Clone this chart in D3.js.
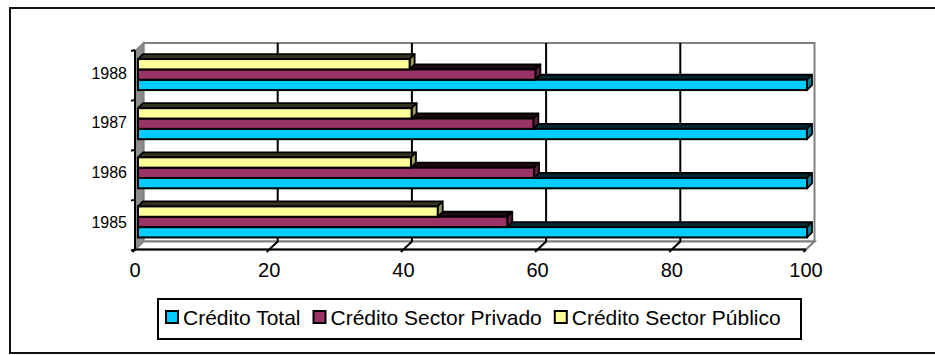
<!DOCTYPE html>
<html>
<head>
<meta charset="utf-8">
<script src="https://cdn.jsdelivr.net/npm/d3@7"></script>
<style>
  html, body { margin: 0; padding: 0; background: #fff; }
  svg { display: block; font-family: Arial, "Liberation Sans", sans-serif; }
</style>
</head>
<body>
<svg id="chart" width="935" height="355"></svg>
<script>
// Credit indices by year (Total = 100)
const years = ["1985", "1986", "1987", "1988"];
const seriesNames = ["Crédito Total", "Crédito Sector Privado", "Crédito Sector Público"];
const creditoTotal = [100, 100, 100, 100];
const creditoPrivado = [55.2, 59.2, 59.1, 59.4];
const creditoPublico = [44.8, 40.8, 40.9, 40.6];
const xTicks = [0, 20, 40, 60, 80, 100];
const seriesColors = ["#00CCFF", "#993366", "#FFFF99"];

const seriesValues = [creditoTotal, creditoPrivado, creditoPublico];

const svg = d3.select("#chart");

// 3D box geometry: front plane and receding depth offset
const depthX = 8.5, depthY = 8;
const floorY = 249.5, topY = 51;
const x = d3.scaleLinear().domain([0, 100]).range([135, 806]);
const xBar = d3.scaleLinear().domain([0, 100]).range([138, 807]);
const yCat = d3.scaleBand().domain(years).range([floorY, 50]);
const yBar = d3.scaleBand().domain(years).range([246.5, 50]);
const barDepth = 5;
const groupH = 31;

// outer frame
svg.append("rect")
  .attr("x", 10).attr("y", 8).attr("width", 940).attr("height", 345)
  .attr("fill", "#fff").attr("stroke", "#111").attr("stroke-width", 2);

const backL = x(0) + depthX, backR = x(100) + depthX;
const backTop = topY - depthY, backBottom = floorY - depthY;

// back wall
svg.append("rect")
  .attr("x", backL).attr("y", backTop)
  .attr("width", backR - backL).attr("height", backBottom - backTop)
  .attr("fill", "#fff").attr("stroke", "#808080").attr("stroke-width", 2);

// left side wall
svg.append("path")
  .attr("d", `M${x(0)},${topY} L${backL},${backTop} L${backL},${backBottom} L${x(0)},${floorY} Z`)
  .attr("fill", "#8c8c8c").attr("stroke", "#808080").attr("stroke-width", 1.5);

// floor
svg.append("path")
  .attr("d", `M${x(0)},${floorY} L${backL},${backBottom} L${backR},${backBottom} L${x(100)},${floorY} Z`)
  .attr("fill", "#fff").attr("stroke", "#808080").attr("stroke-width", 2);

// vertical gridlines on back wall continuing across the floor
svg.append("g").selectAll("path")
  .data(xTicks.filter(v => v > 0 && v < 100))
  .join("path")
  .attr("d", v => `M${x(v) + depthX},${backTop} L${x(v) + depthX},${backBottom} L${x(v)},${floorY}`)
  .attr("fill", "none").attr("stroke", "#000").attr("stroke-width", 2);

// front category axis
svg.append("line")
  .attr("x1", x(0)).attr("x2", x(0)).attr("y1", topY - 1).attr("y2", floorY + 1)
  .attr("stroke", "#000").attr("stroke-width", 2);
const catBounds = years.map(y => yCat(y)).concat([floorY]);
svg.append("g").selectAll("line")
  .data(catBounds)
  .join("line")
  .attr("x1", x(0) - 4).attr("x2", x(0)).attr("y1", d => d + 1).attr("y2", d => d)
  .attr("stroke", "#000").attr("stroke-width", 2);
svg.append("g").selectAll("text")
  .data(years)
  .join("text")
  .attr("x", 127)
  .attr("y", d => yCat(d) + yCat.bandwidth() / 2 + 3.6)
  .attr("text-anchor", "end")
  .attr("font-size", 16)
  .attr("fill", "#000")
  .text(d => d);

// front value axis
svg.append("line")
  .attr("x1", x(0)).attr("x2", x(100)).attr("y1", floorY).attr("y2", floorY)
  .attr("stroke", "#000").attr("stroke-width", 2);
svg.append("g").selectAll("line")
  .data(xTicks)
  .join("line")
  .attr("x1", v => x(v)).attr("y1", floorY)
  .attr("x2", v => x(v) - 2.5).attr("y2", floorY + 2.5)
  .attr("stroke", "#000").attr("stroke-width", 2);
svg.append("g").selectAll("text")
  .data(xTicks)
  .join("text")
  .attr("x", v => x(v))
  .attr("y", 277)
  .attr("text-anchor", "middle")
  .attr("font-size", 20)
  .attr("fill", "#000")
  .text(v => v);

// 3D bars: series 0 at the bottom of each group, drawn bottom-up so upper faces overlap
const barH = groupH / 3;
const bars = [];
years.forEach((yr, i) => {
  const groupTop = yBar(yr) + (yBar.bandwidth() - groupH) / 2;
  seriesValues.forEach((vals, s) => {
    bars.push({ yr, s, v: vals[i], top: groupTop + (2 - s) * barH });
  });
});

const barG = svg.append("g");
bars.forEach(b => {
  const x0 = xBar(0), x1 = xBar(b.v);
  const t = b.top, btm = b.top + barH;
  const base = d3.color(seriesColors[b.s]);
  const g = barG.append("g");
  g.append("path")
    .attr("d", `M${x0},${t} L${x0 + barDepth},${t - barDepth} L${x1 + barDepth},${t - barDepth} L${x1},${t} Z`)
    .attr("fill", base.darker(4.5)).attr("stroke", "#000").attr("stroke-width", 1.8)
    .attr("stroke-linejoin", "round");
  g.append("path")
    .attr("d", `M${x1},${t} L${x1 + barDepth},${t - barDepth} L${x1 + barDepth},${btm - barDepth} L${x1},${btm} Z`)
    .attr("fill", base.darker(1.4)).attr("stroke", "#000").attr("stroke-width", 1.8)
    .attr("stroke-linejoin", "round");
  g.append("rect")
    .attr("x", x0).attr("y", t).attr("width", x1 - x0).attr("height", barH)
    .attr("fill", base).attr("stroke", "#000").attr("stroke-width", 2);
});

// legend
const legend = svg.append("g");
legend.append("rect")
  .attr("x", 158).attr("y", 299).attr("width", 643).attr("height", 40)
  .attr("fill", "#fff").attr("stroke", "#000").attr("stroke-width", 2);
let lx = 166;
seriesNames.forEach((name, s) => {
  legend.append("rect")
    .attr("x", lx).attr("y", 311).attr("width", 12).attr("height", 12)
    .attr("fill", seriesColors[s]).attr("stroke", "#000").attr("stroke-width", 2);
  const txt = legend.append("text")
    .attr("x", lx + 17).attr("y", 324.5)
    .attr("font-size", 21).attr("fill", "#000")
    .text(name);
  lx = lx + 17 + txt.node().getComputedTextLength() + 13;
});
</script>
</body>
</html>
